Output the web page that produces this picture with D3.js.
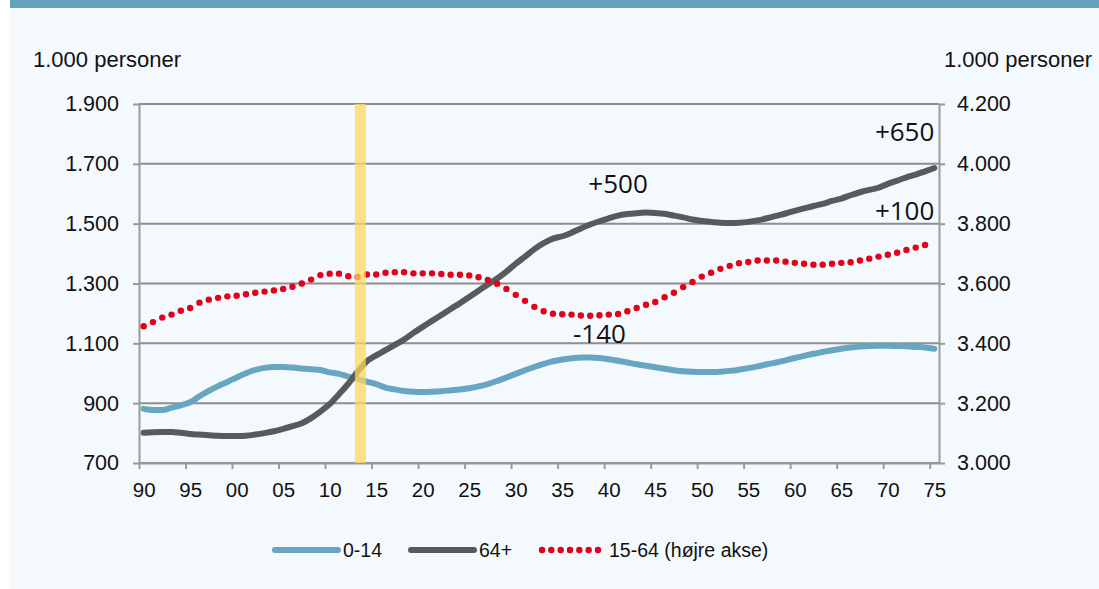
<!DOCTYPE html>
<html>
<head>
<meta charset="utf-8">
<script src="https://cdn.jsdelivr.net/npm/d3@7"></script>
<style>
  body { margin: 0; background: #ffffff; }
  svg text { font-family: "Liberation Sans", Arial, sans-serif; fill: #111; }
  .axis path, .axis line { stroke: #9a9a9a; stroke-width: 2; }
  .grid line { stroke: #8e8e8e; stroke-width: 2; }
  .note { font-family: "Open Sans", sans-serif !important; font-size: 26px; }
</style>
</head>
<body>
<svg id="chart" width="1099" height="589"></svg>
<script>
// --- data ---
var years = d3.range(1990, 2076);

// 0-14 aar (venstre akse, 1.000 personer)
var age0to14 = [
	881, 877, 877, 885, 893, 903, 923, 941, 957, 971,
	986, 1000, 1011, 1018, 1021, 1021, 1019, 1016, 1013, 1011,
	1003, 998, 989, 981, 972, 964, 952, 946, 941, 938,
	937, 938, 940, 943, 946, 950, 956, 964, 974, 986,
	998, 1010, 1021, 1031, 1040, 1046, 1050, 1053, 1053, 1051,
	1047, 1042, 1036, 1030, 1025, 1020, 1015, 1010, 1007, 1005,
	1004, 1004, 1005, 1008, 1012, 1017, 1023, 1030, 1036, 1043,
	1051, 1058, 1065, 1071, 1077, 1082, 1086, 1089, 1091, 1092,
	1092, 1091, 1090, 1088, 1086, 1082
];

// 64+ (venstre akse)
var age64plus = [
	801, 803, 804, 804, 801, 797, 795, 793, 791, 790,
	790, 791, 795, 800, 806, 814, 823, 833, 850, 872,
	897, 930, 965, 1005, 1040, 1060, 1077, 1095, 1113, 1135,
	1155, 1175, 1195, 1215, 1234, 1255, 1276, 1297, 1317, 1340,
	1366, 1390, 1415, 1435, 1450, 1458, 1470, 1484, 1497, 1508,
	1518, 1527, 1532, 1535, 1537, 1536, 1533, 1527, 1521, 1514,
	1509, 1506, 1503, 1502, 1503, 1506, 1511, 1518, 1526, 1534,
	1543, 1551, 1559, 1566, 1576, 1584, 1595, 1605, 1613, 1620,
	1633, 1644, 1655, 1664, 1675, 1686
];

// 15-64 (hoejre akse), 1990-2074
var age15to64 = [
	3457, 3471, 3486, 3496, 3509, 3518, 3536, 3546, 3552, 3557,
	3559, 3564, 3569, 3573, 3577, 3582, 3589, 3600, 3613, 3628,
	3633, 3633, 3624, 3622, 3630, 3630, 3636, 3638, 3638, 3634,
	3634, 3634, 3632, 3629, 3629, 3627, 3621, 3612, 3599, 3582,
	3562, 3542, 3522, 3507, 3499, 3497, 3496, 3493, 3492, 3494,
	3496, 3498, 3507, 3518, 3529, 3538, 3554, 3569, 3588, 3605,
	3623, 3636, 3649, 3659, 3668, 3672, 3677, 3677, 3677, 3673,
	3669, 3666, 3663, 3663, 3666, 3669, 3671, 3677, 3683, 3690,
	3696, 3703, 3712, 3720, 3729
];

var leftTicks = [700, 900, 1100, 1300, 1500, 1700, 1900];
var rightTicks = [3000, 3200, 3400, 3600, 3800, 4000, 4200];
var xTicks = d3.range(1990, 2076, 5);

var noteText = ['+650', '+500', '+100', '-140'];
var noteYear = [2075, 2041, 2075, 2039];
var noteValue = [1777, 1603, 1513, 1100];
var noteAnchor = ['end', 'middle', 'end', 'middle'];

var markYear = 2013.3;   // gul markering
var legendNames = ['0-14', '64+', '15-64 (højre akse)'];

// --- chart ---
var svg = d3.select('#chart');
var W = 1099, H = 589;

var locale = d3.formatLocale({decimal: ',', thousands: '.', grouping: [3], currency: ['', '']});
var fmt = locale.format(',');

// background + top bar
svg.append('rect').attr('x', 10).attr('y', 0).attr('width', W - 10).attr('height', H).attr('fill', '#f4f9fd');
svg.append('rect').attr('x', 10).attr('y', 0).attr('width', W - 10).attr('height', 8).attr('fill', '#66a1bd');

var x = d3.scaleLinear().domain([1989.5, 2075.5]).range([139, 939]);
var yL = d3.scaleLinear().domain([700, 1900]).range([463, 104]);
var yR = d3.scaleLinear().domain([3000, 4200]).range([463, 104]);
var half = (x(1991) - x(1990)) / 2;

// gridlines
svg.append('g').classed('grid', true)
	.selectAll('line').data(leftTicks).enter().append('line')
	.attr('x1', x.range()[0]).attr('x2', x.range()[1])
	.attr('y1', function(d) { return yL(d); })
	.attr('y2', function(d) { return yL(d); });

// axes
var gLeft = svg.append('g').classed('axis', true)
	.attr('transform', 'translate(' + x.range()[0] + ',0)')
	.call(d3.axisLeft(yL).tickValues(leftTicks).tickSize(6).tickSizeOuter(0).tickPadding(14).tickFormat(fmt));

var gRight = svg.append('g').classed('axis', true)
	.attr('transform', 'translate(' + x.range()[1] + ',0)')
	.call(d3.axisRight(yR).tickValues(rightTicks).tickSize(6).tickSizeOuter(0).tickPadding(12).tickFormat(fmt));

var gBottom = svg.append('g').classed('axis', true)
	.attr('transform', 'translate(0,' + yL.range()[0] + ')')
	.call(d3.axisBottom(x).tickValues(xTicks).tickSize(6).tickSizeOuter(0).tickPadding(13)
		.tickFormat(function(d) { return String(d).slice(2); }));
gBottom.selectAll('.tick line').attr('x1', -half).attr('x2', -half);

[gLeft, gRight].forEach(function(g) {
	g.selectAll('text').style('font-size', '21.5px').style('font-family', '"Liberation Sans", Arial, sans-serif').attr('fill', '#111');
});
gBottom.selectAll('text').style('font-size', '20.5px').style('font-family', '"Liberation Sans", Arial, sans-serif').attr('fill', '#111');

// axis titles
svg.append('text').text('1.000 personer').attr('x', 33).attr('y', 67).style('font-size', '22px');
svg.append('text').text('1.000 personer').attr('x', 944).attr('y', 67).style('font-size', '22px');

// lines
var lineL = d3.line()
	.x(function(d, i) { return x(years[i]); })
	.y(function(d) { return yL(d); })
	.curve(d3.curveMonotoneX);

svg.append('path').datum(age0to14)
	.attr('d', lineL).attr('fill', 'none')
	.attr('stroke', '#68a5c2').attr('stroke-width', 6).attr('stroke-linecap', 'round').attr('stroke-linejoin', 'round');

svg.append('path').datum(age64plus)
	.attr('d', lineL).attr('fill', 'none')
	.attr('stroke', '#5a5a5a').attr('stroke-width', 6).attr('stroke-linecap', 'round').attr('stroke-linejoin', 'round');

svg.append('g').selectAll('circle').data(age15to64).enter().append('circle')
	.attr('cx', function(d, i) { return x(years[i]); })
	.attr('cy', function(d) { return yR(d); })
	.attr('r', 3.2)
	.attr('fill', '#e2001a');

// yellow marker
svg.append('rect')
	.attr('x', x(markYear) - 5.5).attr('y', yL(1900))
	.attr('width', 11).attr('height', yL(700) - yL(1900))
	.attr('fill', '#fcd85e').attr('opacity', 0.75);

// notes
svg.append('g').selectAll('text').data(noteText).enter().append('text')
	.classed('note', true)
	.text(function(d) { return d; })
	.attr('x', function(d, i) { return x(noteYear[i]); })
	.attr('y', function(d, i) { return yL(noteValue[i]); })
	.attr('text-anchor', function(d, i) { return noteAnchor[i]; });

// legend
var legend = svg.append('g').attr('transform', 'translate(275,550)');
var legX = [0, 136, 267];

legendNames.forEach(function(name, i) {
	var g = legend.append('g').attr('transform', 'translate(' + legX[i] + ',0)');
	if (i < 2) {
		g.append('line').attr('x1', 0).attr('x2', 63).attr('y1', 0).attr('y2', 0)
			.attr('stroke', i == 0 ? '#68a5c2' : '#5a5a5a')
			.attr('stroke-width', 6).attr('stroke-linecap', 'round');
	} else {
		g.selectAll('circle').data(d3.range(7)).enter().append('circle')
			.attr('cx', function(d) { return d * 9.33; }).attr('cy', 0).attr('r', 3.2)
			.attr('fill', '#e2001a');
	}
	g.append('text').text(name)
		.attr('x', i < 2 ? 68 : 67)
		.attr('dy', '0.35em')
		.style('font-size', '19.5px');
});
</script>
</body>
</html>
